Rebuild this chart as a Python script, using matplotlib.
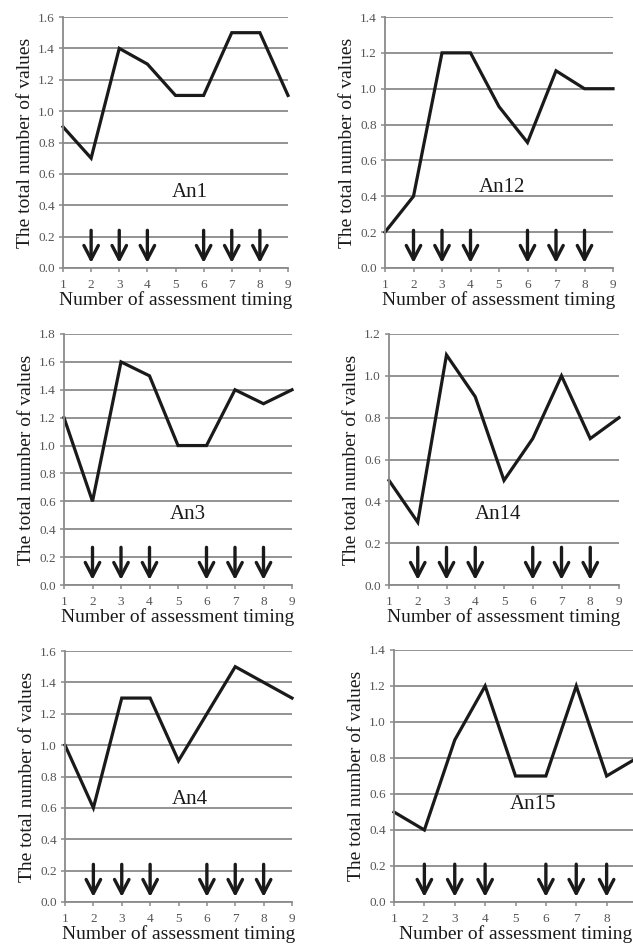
import matplotlib
matplotlib.use('Agg')
import matplotlib.pyplot as plt

plt.rcParams['font.family'] = ['Liberation Serif', 'DejaVu Serif']

# ---- data ----
timing = [1, 2, 3, 4, 5, 6, 7, 8, 9]
arrow_at = [2, 3, 4, 6, 7, 8]

an1 = [0.9, 0.7, 1.4, 1.3, 1.1, 1.1, 1.5, 1.5, 1.1]
an12 = [0.2, 0.4, 1.2, 1.2, 0.9, 0.7, 1.1, 1.0, 1.0]
an3 = [1.2, 0.6, 1.6, 1.5, 1.0, 1.0, 1.4, 1.3, 1.4]
an14 = [0.5, 0.3, 1.1, 0.9, 0.5, 0.7, 1.0, 0.7, 0.8]
an4 = [1.0, 0.6, 1.3, 1.3, 0.9, 1.2, 1.5, 1.4, 1.3]
an15 = [0.5, 0.4, 0.9, 1.2, 0.7, 0.7, 1.2, 0.7, 0.8]

names = ['An1', 'An12', 'An3', 'An14', 'An4', 'An15']
series = [an1, an12, an3, an14, an4, an15]
ymaxes = [1.6, 1.4, 1.8, 1.2, 1.6, 1.4]

W, H = 633, 944
# panel boxes in pixels: x of 1, x of 9, y of top, y of 0
boxes = [(63, 288, 17, 268), (385, 613, 17, 268),
         (64, 292, 334, 585), (389, 619, 334, 585),
         (65, 292, 651, 902), (394, 637, 650, 902)]
# label positions (x in data, y in axes fraction)
label_pos = [(5.5, 0.30), (5.1, 0.32), (5.35, 0.28),
             (4.8, 0.28), (5.4, 0.41), (5.57, 0.385)]

fig = plt.figure(figsize=(W / 100, H / 100), dpi=100)

grey = '#8a8a8a'
for i in range(6):
    x1, x9, yt, y0 = boxes[i]
    ax = fig.add_axes([x1 / W, 1 - y0 / H, (x9 - x1) / W, (y0 - yt) / H])
    ax.plot(timing, series[i], color='#1a1a1a', lw=2.3, solid_joinstyle='miter', clip_on=False)
    ax.set_xlim(1, 9)
    ax.set_ylim(0, ymaxes[i])
    n = int(round(ymaxes[i] / 0.2))
    ticks = [round(0.2 * k, 1) for k in range(n + 1)]
    ax.set_yticks(ticks)
    ax.set_yticklabels(['%.1f' % t for t in ticks])
    ax.set_xticks(timing)
    ax.grid(axis='y', color=grey, lw=1.3)
    ax.set_axisbelow(True)
    for s in ['top', 'right']:
        ax.spines[s].set_visible(False)
    for s in ['left', 'bottom']:
        ax.spines[s].set_color(grey)
        ax.spines[s].set_linewidth(1.3)
    ax.tick_params(axis='both', labelsize=9.5, colors='#555555', length=3, width=1.1)
    ax.tick_params(axis='both', color=grey)
    ax.tick_params(axis='x', pad=5)
    ax.tick_params(axis='y', pad=3)
    ax.set_xlabel('Number of assessment timing', fontsize=14, color='#1a1a1a', labelpad=0)
    ax.set_ylabel('The total number of values', fontsize=14, color='#1a1a1a', labelpad=3)
    lx, ly = label_pos[i]
    ax.text(lx, ly, names[i], transform=ax.get_xaxis_transform(), ha='center', va='center',
            fontsize=15, color='#1a1a1a')
    for a in arrow_at:
        ax.annotate('', xy=(a, 0.02), xytext=(a, 0.15),
                    xycoords=('data', 'axes fraction'), textcoords=('data', 'axes fraction'),
                    arrowprops=dict(arrowstyle='->,head_length=0.5,head_width=0.26',
                                    color='#1a1a1a', lw=2.4, shrinkA=0, shrinkB=0,
                                    mutation_scale=20))

fig.savefig('out.png', dpi=100)
